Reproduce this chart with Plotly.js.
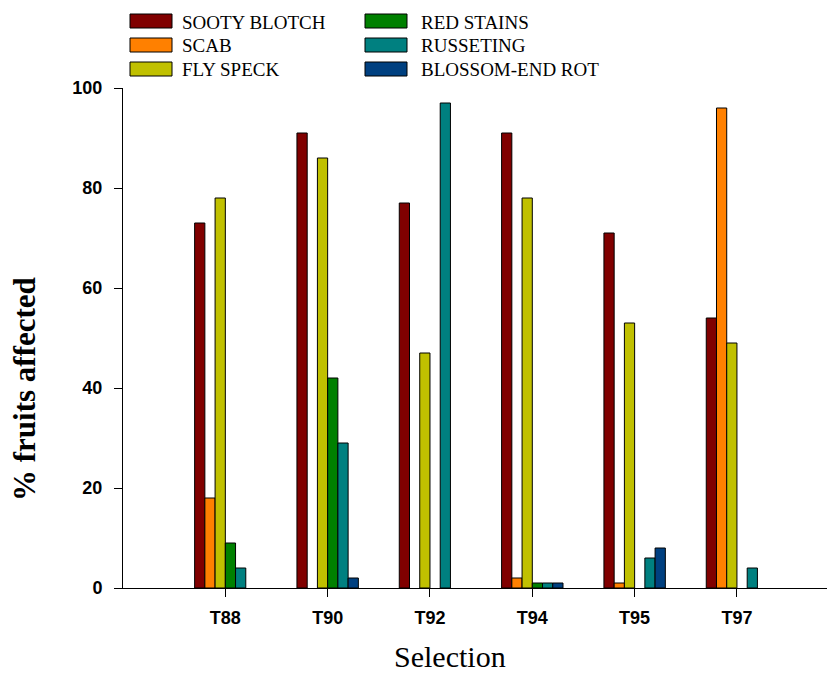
<!DOCTYPE html>
<html>
<head>
<meta charset="utf-8">
<script src="https://cdn.plot.ly/plotly-3.0.1.min.js"></script>
<style>html,body{margin:0;padding:0;background:#fff;}#chart{width:827px;height:676px;}</style>
</head>
<body>
<div id="chart"></div>
<script>
const categories = ["T88", "T90", "T92", "T94", "T95", "T97"];
const seriesNames = ["SOOTY BLOTCH", "SCAB", "FLY SPECK", "RED STAINS", "RUSSETING", "BLOSSOM-END ROT"];
const sootyBlotch = [73, 91, 77, 91, 71, 54];
const scab = [18, 0, 0, 2, 1, 96];
const flySpeck = [78, 86, 47, 78, 53, 49];
const redStains = [9, 42, 0, 1, 0, 0];
const russeting = [4, 29, 97, 1, 6, 4];
const blossomEndRot = [0, 2, 0, 1, 8, 0];
const colors = ["#800000", "#ff8000", "#c0c000", "#008000", "#008080", "#004080"];
const yTicks = [0, 20, 40, 60, 80, 100];

const seriesValues = [sootyBlotch, scab, flySpeck, redStains, russeting, blossomEndRot];
const xIdx = categories.map((c, i) => i);

const SERIF = "'Liberation Serif', 'Times New Roman', serif";
const SANS = "'Liberation Sans', Arial, sans-serif";

const traces = seriesValues.map((vals, k) => ({
  type: "bar",
  name: seriesNames[k],
  x: xIdx,
  // zero values are drawn as empty (no outline stub on the axis)
  y: vals.map(v => (v === 0 ? null : v)),
  marker: {color: colors[k], line: {color: "#000000", width: 1}},
  showlegend: false,
  hoverinfo: "x+y+name"
}));

// plot area in pixels: left 123, right 827, top 88, bottom 588
const L = 123, R = 827, T = 88, B = 588;
const px = x => (x - L) / (R - L);
const py = y => (B - y) / (B - T);

// Manual legend (two columns, three rows) built from names/colors
const shapes = [];
const annotations = [];
const colX = [130, 365];
const rowY = [21, 45, 69];
seriesNames.forEach((nm, k) => {
  const col = Math.floor(k / 3), row = k % 3;
  const x0 = colX[col], yc = rowY[row];
  shapes.push({
    type: "rect", xref: "paper", yref: "paper",
    x0: px(x0), x1: px(x0 + 42),
    y0: py(yc + 7), y1: py(yc - 7),
    fillcolor: colors[k], line: {color: "#000000", width: 1}
  });
  annotations.push({
    xref: "paper", yref: "paper",
    x: px(x0 + 50 + (col === 1 ? 4 : 0)), y: py(yc + 1),
    xanchor: "left", yanchor: "middle", showarrow: false,
    text: nm,
    font: {family: SERIF, size: 19, color: "#000"}
  });
});

annotations.push({
  xref: "paper", yref: "paper", x: px(24), y: py(389),
  xanchor: "center", yanchor: "middle", showarrow: false, textangle: -90,
  text: "% fruits affected",
  font: {family: SERIF, size: 31, weight: "bold", color: "#000"}
});
annotations.push({
  xref: "paper", yref: "paper", x: px(450), y: py(656),
  xanchor: "center", yanchor: "middle", showarrow: false,
  text: "Selection",
  font: {family: SERIF, size: 30, color: "#000"}
});

const layout = {
  width: 827, height: 676,
  margin: {l: L, r: 827 - R, t: T, b: 676 - B},
  paper_bgcolor: "#ffffff",
  plot_bgcolor: "#ffffff",
  barmode: "group",
  bargap: 0.4,
  bargroupgap: 0,
  showlegend: false,
  xaxis: {
    range: [-1, 5.88],
    tickmode: "array",
    tickvals: xIdx,
    ticktext: categories,
    ticks: "outside", ticklen: 8, tickwidth: 1, tickcolor: "#000",
    showline: true, linecolor: "#000", linewidth: 1,
    showgrid: false, zeroline: false,
    ticklabelstandoff: 5,
    tickfont: {family: SANS, size: 18, weight: "bold", color: "#000"}
  },
  yaxis: {
    range: [0, 100],
    tickmode: "array",
    tickvals: yTicks,
    ticktext: yTicks.map(String),
    ticks: "outside", ticklen: 8, tickwidth: 1, tickcolor: "#000",
    showline: true, linecolor: "#000", linewidth: 1,
    showgrid: false, zeroline: false,
    ticklabelstandoff: 8,
    tickfont: {family: SANS, size: 18, weight: "bold", color: "#000"}
  },
  shapes: shapes,
  annotations: annotations
};

Plotly.newPlot("chart", traces, layout, {displayModeBar: false, staticPlot: true});
</script>
</body>
</html>
